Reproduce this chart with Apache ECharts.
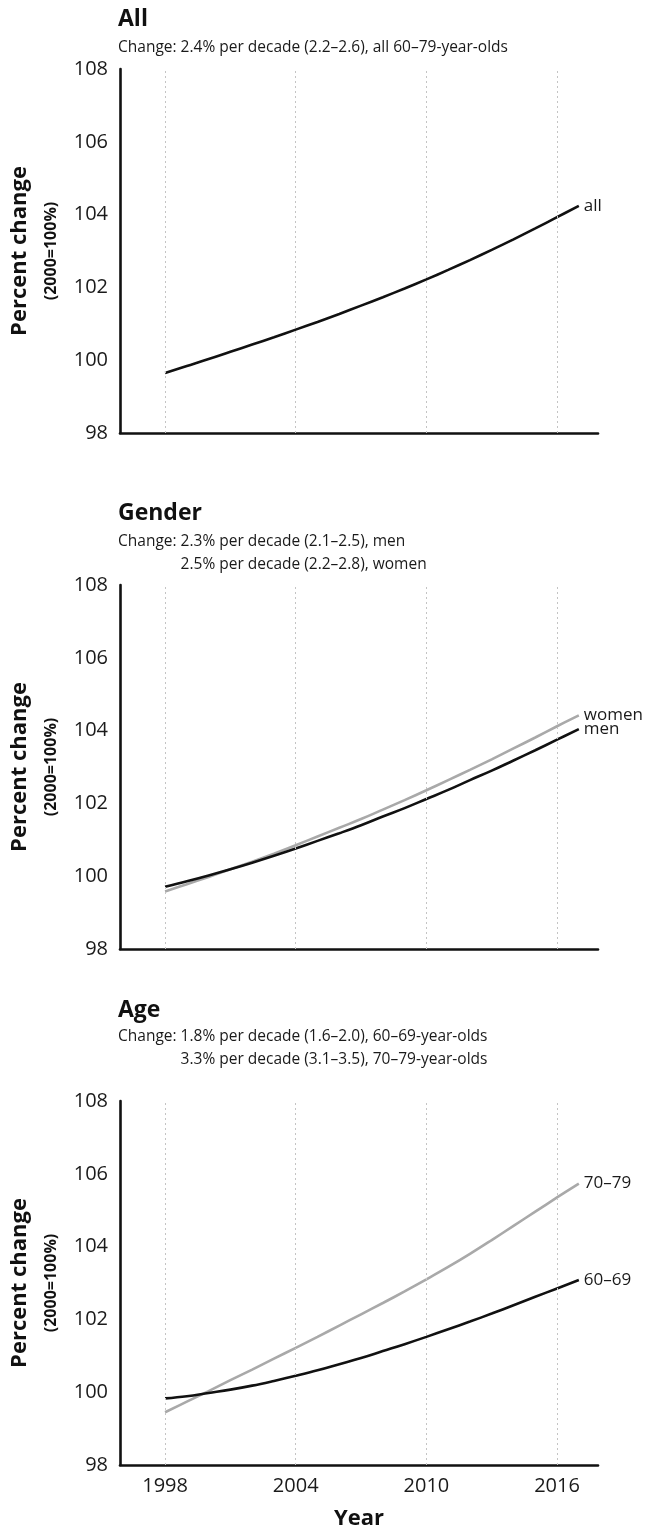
<!DOCTYPE html>
<html>
<head>
<meta charset="utf-8">
<script src="https://cdn.jsdelivr.net/npm/echarts@6/dist/echarts.min.js"></script>
<style>
html,body{margin:0;padding:0;background:#fff;}
#chart{width:651px;height:1534px;}
</style>
</head>
<body>
<div id="chart"></div>
<script>
// ---- data ----
const years = [1998,1999,2000,2001,2002,2003,2004,2005,2006,2007,2008,2009,2010,2011,2012,2013,2014,2015,2016,2017];
const allValues   = [99.65,99.84,100.03,100.23,100.43,100.63,100.84,101.05,101.27,101.50,101.73,101.97,102.22,102.48,102.75,103.03,103.32,103.62,103.93,104.24];
const menValues   = [99.71,99.86,100.02,100.19,100.37,100.56,100.76,100.97,101.18,101.40,101.64,101.87,102.12,102.37,102.64,102.90,103.18,103.46,103.75,104.04];
const womenValues = [99.58,99.78,99.98,100.19,100.40,100.62,100.85,101.09,101.33,101.57,101.83,102.09,102.36,102.64,102.92,103.21,103.51,103.81,104.12,104.42];
const age6069     = [99.83,99.89,99.98,100.07,100.18,100.31,100.45,100.60,100.77,100.94,101.13,101.32,101.52,101.73,101.94,102.16,102.39,102.62,102.85,103.08];
const age7079     = [99.45,99.74,100.03,100.33,100.62,100.92,101.22,101.52,101.83,102.14,102.45,102.77,103.10,103.44,103.80,104.18,104.57,104.96,105.35,105.73];
const xTickValues = [1998,2004,2010,2016];
const yMin = 98, yMax = 108, yStep = 2;

const panelTitles = ['All','Gender','Age'];
const panelSubtitles = [
  ['Change: 2.4% per decade (2.2–2.6), all 60–79-year-olds'],
  ['Change: 2.3% per decade (2.1–2.5), men','2.5% per decade (2.2–2.8), women'],
  ['Change: 1.8% per decade (1.6–2.0), 60–69-year-olds','3.3% per decade (3.1–3.5), 70–79-year-olds']
];
const yAxisName = 'Percent change';
const yAxisSubName = '(2000=100%)';
const xAxisName = 'Year';

// ---- layout / style ----
const FONT = '"Open Sans", "Noto Sans", sans-serif';
const BLACK = '#111111';
const GREY = '#a9a9a9';
const gridTops = [69, 585, 1101];
const gridH = 364;
const titleTops = [8, 502, 999];
const subTops = [36, 530, 1025];
const SUB_LH = 23;
const xMin = 1995.93, xMax = 2017.88;

function pairs(vals){ return years.map((y,i)=>[y, vals[i]]); }

const grids = gridTops.map(t => ({left:120, right:53, top:t, height:gridH}));

const xAxes = gridTops.map((t,i) => ({
  type:'value', gridIndex:i, min:xMin, max:xMax,
  axisLine:{show:true, onZero:false, lineStyle:{color:BLACK, width:2.6}},
  axisTick:{show:false},
  splitLine:{show:false},
  axisLabel:{show:i===2, customValues:xTickValues, fontFamily:FONT, fontSize:20, color:'#1a1a1a', margin:11,
             formatter: v => String(v)},
  name: i===2 ? xAxisName : '',
  nameLocation:'middle', nameGap:43,
  nameTextStyle:{fontFamily:FONT, fontSize:22, fontWeight:'bold', color:BLACK}
}));

const yAxes = gridTops.map((t,i) => ({
  type:'value', gridIndex:i, min:yMin, max:yMax, interval:yStep,
  axisLine:{show:true, lineStyle:{color:BLACK, width:2.6}},
  axisTick:{show:false},
  splitLine:{show:false},
  axisLabel:{fontFamily:FONT, fontSize:20, color:'#1a1a1a', margin:12},
  name:'{a|' + yAxisName + '}\n{b|' + yAxisSubName + '}',
  nameLocation:'middle', nameRotate:90, nameGap:55,
  nameTextStyle:{
    align:'center',
    rich:{
      a:{fontFamily:FONT, fontSize:22, fontWeight:'bold', color:BLACK, lineHeight:34, align:'center'},
      b:{fontFamily:FONT, fontSize:16, fontWeight:'bold', color:BLACK, lineHeight:28, align:'center'}
    }
  }
}));

const gridMarks = {
  silent:true, symbol:'none', animation:false,
  label:{show:false},
  lineStyle:{type:[2,3], color:'#c4c4c4', width:1},
  data: xTickValues.map(v => ({xAxis:v}))
};

function line(name, vals, color, gi, withMarks){
  const s = {
    name, type:'line', xAxisIndex:gi, yAxisIndex:gi,
    data:pairs(vals), smooth:0.4, showSymbol:false, symbol:'none',
    lineStyle:{color, width:2.6}, itemStyle:{color},
    endLabel:{show:true, formatter:name, fontFamily:FONT, fontSize:17, color:'#1a1a1a', distance:5},
    animation:false, z: color===BLACK ? 3 : 2
  };
  if (withMarks) s.markLine = gridMarks;
  return s;
}

const series = [
  line('all', allValues, BLACK, 0, true),
  line('women', womenValues, GREY, 1, true),
  line('men', menValues, BLACK, 1, false),
  line('70–79', age7079, GREY, 2, true),
  line('60–69', age6069, BLACK, 2, false)
];

const titles = [];
panelTitles.forEach((t,i) => {
  titles.push({text:t, left:118, top:titleTops[i], padding:0,
    textStyle:{fontFamily:FONT, fontSize:23, fontWeight:'bold', color:BLACK}});
  const subs = panelSubtitles[i];
  let txt = subs[0];
  if (subs.length > 1) txt += '\n{h|Change: }' + subs[1];
  titles.push({text:txt, left:118, top:subTops[i], padding:0,
    textStyle:{fontFamily:FONT, fontSize:15.5, fontWeight:'normal', color:'#1a1a1a', lineHeight:SUB_LH,
      rich:{h:{fontFamily:FONT, fontSize:15.5, color:'rgba(0,0,0,0)', lineHeight:SUB_LH}}}});
});

const chart = echarts.init(document.getElementById('chart'), null, {renderer:'canvas'});
chart.setOption({
  backgroundColor:'#ffffff',
  animation:false,
  title:titles,
  grid:grids,
  xAxis:xAxes,
  yAxis:yAxes,
  series
});
</script>
</body>
</html>
